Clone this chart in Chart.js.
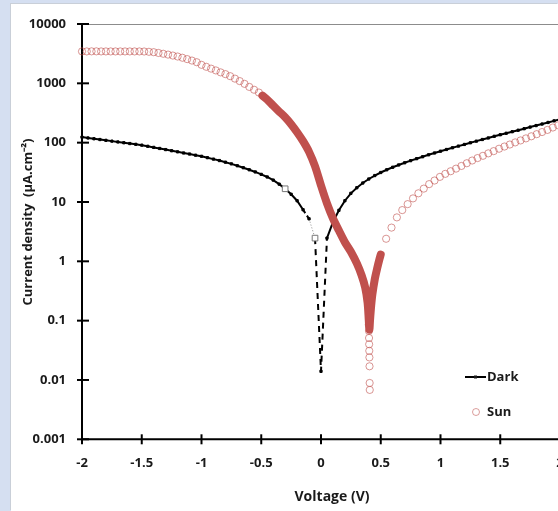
<!DOCTYPE html>
<html>
<head>
<meta charset="utf-8">
<script src="https://cdn.jsdelivr.net/npm/chart.js@4.4.1/dist/chart.umd.min.js"></script>
<style>
  html, body { margin: 0; padding: 0; background: #d5dff1; width: 558px; height: 511px; overflow: hidden; }
  #panel { position: absolute; left: 11px; top: 4px; width: 547px; height: 507px; background: #fff; overflow: hidden; box-shadow: -1px -1px 0 #c9cfd8; }
  canvas { position: absolute; left: 0; top: 0; }
</style>
</head>
<body>
<div id="panel"><canvas id="iv" width="560" height="507"></canvas></div>
<script>
// Dark J-V curve (uA/cm2, absolute value)
const darkV = [-2.00, -1.95, -1.90, -1.85, -1.80, -1.75, -1.70, -1.65, -1.60, -1.55, -1.50, -1.45, -1.40, -1.35, -1.30,
  -1.25, -1.20, -1.15, -1.10, -1.05, -1.00, -0.95, -0.90, -0.85, -0.80, -0.75, -0.70, -0.65, -0.60, -0.55, -0.50,
  -0.45, -0.40, -0.35, -0.30, -0.25, -0.20, -0.15, -0.10, -0.05, 0.00, 0.05, 0.10, 0.15, 0.20, 0.25, 0.30, 0.35,
  0.40, 0.45, 0.50, 0.55, 0.60, 0.65, 0.70, 0.75, 0.80, 0.85, 0.90, 0.95, 1.00, 1.05, 1.10, 1.15, 1.20, 1.25, 1.30,
  1.35, 1.40, 1.45, 1.50, 1.55, 1.60, 1.65, 1.70, 1.75, 1.80, 1.85, 1.90, 1.95, 2.00];
const darkJ = [124, 120, 116.4, 112.9, 109.4, 106.1, 102.8, 99.7, 96.6, 93.7, 90.8, 86.9, 83.2, 79.8, 76.4,
  73.1, 70.0, 67.0, 64.3, 61.5, 58.9, 55.8, 52.8, 49.9, 46.9, 43.9, 40.8, 37.8, 34.9, 32.1, 29.2,
  26.4, 23.4, 20, 16.7, 13.5, 10.5, 7.4, 5.2, 2.46, 0.014, 2.46, 4.57, 7.24, 10.5, 14.0, 17.4, 20.9,
  24.4, 27.9, 31.4, 34.9, 38.5, 42.1, 45.8, 49.7, 53.7, 57.9, 62.4, 67.0, 71.8, 76.7, 82.0, 87.5, 93.3, 99.5, 106,
  113, 120, 128, 136, 144, 153, 162, 172, 183, 194, 206, 219, 233, 248];
const darkHollow = [-0.30, -0.05];

// Sun curve, sparse circles
const sunV = [-2.00, -1.96, -1.92, -1.88, -1.84, -1.80, -1.76, -1.72, -1.68, -1.64, -1.60, -1.56, -1.52, -1.48,
  -1.44, -1.40, -1.36, -1.32, -1.28, -1.24, -1.20, -1.16, -1.12, -1.08, -1.04, -1.00, -0.96, -0.92, -0.88, -0.84,
  -0.80, -0.76, -0.72, -0.68, -0.64, -0.60, -0.56, -0.52,
  0.400, 0.401, 0.402, 0.403, 0.404, 0.405, 0.406, 0.407, 0.408,
  0.545, 0.59, 0.635, 0.68, 0.725, 0.77, 0.815, 0.86, 0.905, 0.95, 0.995, 1.04, 1.085, 1.13, 1.175, 1.22, 1.265,
  1.31, 1.355, 1.40, 1.445, 1.49, 1.535, 1.58, 1.625, 1.67, 1.715, 1.76, 1.805, 1.85, 1.895, 1.94, 1.985];
const sunJ = [3450, 3450, 3460, 3460, 3450, 3450, 3450, 3450, 3450, 3450, 3450, 3450, 3450, 3440,
  3400, 3350, 3250, 3150, 3050, 2940, 2830, 2700, 2560, 2420, 2270, 2050, 1900, 1770, 1650, 1530,
  1430, 1320, 1200, 1090, 980, 870, 780, 700,
  0.085, 0.067, 0.051, 0.040, 0.031, 0.024, 0.017, 0.0089, 0.0068,
  2.4, 3.7, 5.5, 7.3, 9.2, 11.5, 14, 16.8, 20, 23, 26.5, 29.8, 33, 36.5, 40.5, 45, 50,
  55, 60, 66, 72, 79, 86, 93, 101, 109, 118, 128, 139, 151, 164, 180, 196];

// Sun curve, densely sampled part (circles merge into a band)
const bandV = [-0.49, -0.45, -0.40, -0.35, -0.30, -0.25, -0.20, -0.15, -0.10, -0.05, 0.00, 0.05, 0.10, 0.15,
  0.20, 0.25, 0.30, 0.34, 0.37, 0.39, 0.40, 0.405, 0.41, 0.42, 0.43, 0.45, 0.47, 0.49, 0.50];
const bandJ = [620, 530, 420, 335, 268, 205, 150, 106, 70, 40, 19, 9.5, 5.3, 3.3,
  2.1, 1.45, 0.92, 0.58, 0.36, 0.2, 0.1, 0.07, 0.1, 0.18, 0.28, 0.5, 0.76, 1.1, 1.3];

const xTicks = [-2, -1.5, -1, -0.5, 0, 0.5, 1, 1.5, 2];
const yTicks = [0.001, 0.01, 0.1, 1, 10, 100, 1000, 10000];

const RED = '#c0504d';
const pts = (xs, ys) => xs.map((x, i) => ({ x: x, y: ys[i] }));
const isHollow = ctx => {
  const p = ctx.raw;
  return p && darkHollow.some(v => Math.abs(v - p.x) < 1e-6);
};

Chart.defaults.font.family = "'Open Sans', 'Liberation Sans', sans-serif";
Chart.defaults.font.size = 13;
Chart.defaults.font.weight = 'bold';
Chart.defaults.color = '#1a1a1a';

const decor = {
  id: 'decor',
  beforeDatasetsDraw(chart) {
    const { ctx, chartArea: a, scales } = chart;
    ctx.save();
    // top border of plot area
    ctx.strokeStyle = '#8c8c8c';
    ctx.lineWidth = 1;
    ctx.beginPath();
    ctx.moveTo(a.left, a.top + 0.5);
    ctx.lineTo(a.right + 20, a.top + 0.5);
    ctx.stroke();
    // axes
    ctx.strokeStyle = '#000';
    ctx.lineWidth = 2;
    ctx.beginPath();
    ctx.moveTo(a.left, a.top);
    ctx.lineTo(a.left, a.bottom);
    ctx.lineTo(a.right + 20, a.bottom);
    ctx.stroke();
    // cross tick marks
    yTicks.forEach(v => {
      const y = scales.y.getPixelForValue(v);
      ctx.beginPath();
      ctx.moveTo(a.left - 5, y);
      ctx.lineTo(a.left + 7, y);
      ctx.stroke();
    });
    xTicks.forEach(v => {
      const x = scales.x.getPixelForValue(v);
      ctx.beginPath();
      ctx.moveTo(x, a.bottom - 5);
      ctx.lineTo(x, a.bottom + 5);
      ctx.stroke();
    });
    ctx.restore();
  },
  afterDraw(chart) {
    const { ctx } = chart;
    ctx.save();
    ctx.fillStyle = '#1a1a1a';
    // axis titles
    ctx.font = "bold 14px 'Open Sans', sans-serif";
    ctx.textAlign = 'center';
    ctx.textBaseline = 'middle';
    ctx.fillText('Voltage (V)', 321, 493);
    ctx.translate(17, 218);
    ctx.rotate(-Math.PI / 2);
    ctx.font = "bold 13px 'Open Sans', sans-serif";
    ctx.fillText('Current density  (\u00b5A.cm\u207b\u00b2)', 0, 0);
    ctx.restore();

    // legend
    ctx.save();
    ctx.font = "bold 13px 'Open Sans', sans-serif";
    ctx.textBaseline = 'middle';
    ctx.fillStyle = '#1a1a1a';
    ctx.strokeStyle = '#000';
    ctx.lineWidth = 2;
    ctx.beginPath();
    ctx.moveTo(454, 373);
    ctx.lineTo(475, 373);
    ctx.stroke();
    ctx.fillRect(463, 371.5, 3, 3);
    ctx.fillText('Dark', 476, 373);
    ctx.strokeStyle = 'rgba(192,80,77,0.55)';
    ctx.lineWidth = 1;
    ctx.beginPath();
    ctx.arc(465, 408, 3.5, 0, Math.PI * 2);
    ctx.stroke();
    ctx.fillText('Sun', 476, 408);
    ctx.restore();
  }
};

new Chart(document.getElementById('iv'), {
  type: 'scatter',
  data: {
    datasets: [{
      label: 'Sun band',
      data: pts(bandV, bandJ),
      showLine: true,
      borderColor: RED,
      borderWidth: 8,
      borderCapStyle: 'round',
      borderJoinStyle: 'round',
      pointRadius: 0,
      tension: 0.3
    }, {
      label: 'Sun',
      data: pts(sunV, sunJ),
      showLine: false,
      pointStyle: 'circle',
      pointRadius: 3.6,
      pointBorderWidth: 1,
      pointBorderColor: 'rgba(192,80,77,0.6)',
      pointBackgroundColor: 'rgba(255,255,255,0)'
    }, {
      label: 'Dark',
      data: pts(darkV, darkJ),
      showLine: true,
      borderColor: '#000',
      borderWidth: 2,
      pointStyle: 'rect',
      pointRadius: ctx => isHollow(ctx) ? 4 : 1.6,
      pointBorderWidth: 1,
      pointBorderColor: ctx => isHollow(ctx) ? '#777' : '#000',
      pointBackgroundColor: ctx => isHollow(ctx) ? '#fff' : '#000',
      segment: {
        borderDash: ctx => {
          const a = ctx.p0.parsed.x, b = ctx.p1.parsed.x;
          if (a >= -0.151 && b <= -0.099) return [4, 3];
          if (a >= -0.101 && b <= -0.049) return [1, 2];
          if (a >= -0.051 && b <= 0.051) return [6, 5];
          return [];
        },
        borderWidth: ctx => {
          const a = ctx.p0.parsed.x, b = ctx.p1.parsed.x;
          return (a >= -0.101 && b <= -0.049) ? 1 : 2;
        },
        borderColor: ctx => {
          const a = ctx.p0.parsed.x, b = ctx.p1.parsed.x;
          return (a >= -0.101 && b <= -0.049) ? '#888' : '#000';
        }
      }
    }]
  },
  options: {
    responsive: false,
    animation: false,
    clip: false,
    layout: { padding: { top: 20, right: 11, left: 0, bottom: 0 } },
    plugins: {
      legend: { display: false },
      tooltip: { enabled: false }
    },
    scales: {
      x: {
        type: 'linear',
        min: -2,
        max: 2,
        grid: { display: false, drawTicks: false },
        border: { display: false },
        afterBuildTicks: s => { s.ticks = xTicks.map(v => ({ value: v })); },
        afterFit: s => { s.height = 71.7; s.paddingLeft = 0; s.paddingRight = 0; },
        ticks: { padding: 16, callback: v => String(v), maxRotation: 0 }
      },
      y: {
        type: 'logarithmic',
        min: 0.001,
        max: 10000,
        grid: { display: false, drawTicks: false },
        border: { display: false },
        afterBuildTicks: s => { s.ticks = yTicks.map(v => ({ value: v })); },
        afterFit: s => { s.width = 71; s.paddingTop = 0; s.paddingBottom = 0; },
        ticks: { padding: 16, callback: v => String(v) }
      }
    }
  },
  plugins: [decor]
});
</script>
</body>
</html>
